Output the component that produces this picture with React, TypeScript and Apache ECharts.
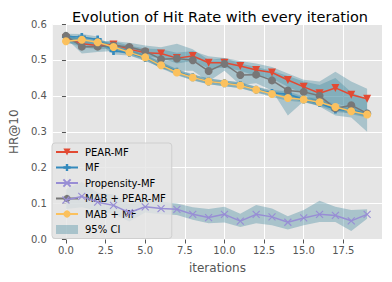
import React, { useEffect, useRef } from "react";
import * as echarts from "echarts";

const iterations = [0, 1, 2, 3, 4, 5, 6, 7, 8, 9, 10, 11, 12, 13, 14, 15, 16, 17, 18, 19];
const xTickValues = [0, 2.5, 5, 7.5, 10, 12.5, 15, 17.5];

const pearMF = [0.56, 0.545, 0.54, 0.543, 0.53, 0.52, 0.518, 0.505, 0.511, 0.492, 0.492, 0.483, 0.472, 0.465, 0.444, 0.425, 0.407, 0.422, 0.403, 0.392];
const pearMFUpper = [0.572, 0.555, 0.55, 0.552, 0.54, 0.532, 0.53, 0.52, 0.525, 0.51, 0.505, 0.497, 0.49, 0.48, 0.462, 0.445, 0.44, 0.467, 0.44, 0.42];
const pearMFLower = [0.55, 0.535, 0.53, 0.532, 0.52, 0.508, 0.506, 0.49, 0.497, 0.476, 0.478, 0.47, 0.455, 0.448, 0.425, 0.405, 0.375, 0.38, 0.365, 0.36];

const mf = [0.565, 0.564, 0.557, 0.525, 0.52, 0.505, 0.487, 0.467, 0.452, 0.44, 0.435, 0.43, 0.417, 0.408, 0.405, 0.39, 0.38, 0.362, 0.36, 0.35];
const mfUpper = [0.573, 0.572, 0.565, 0.535, 0.528, 0.513, 0.495, 0.475, 0.46, 0.448, 0.443, 0.438, 0.425, 0.416, 0.413, 0.398, 0.388, 0.37, 0.368, 0.358];
const mfLower = [0.557, 0.556, 0.549, 0.515, 0.512, 0.497, 0.479, 0.459, 0.444, 0.432, 0.427, 0.422, 0.409, 0.4, 0.397, 0.382, 0.372, 0.354, 0.352, 0.342];

const propensityMF = [0.11, 0.12, 0.104, 0.095, 0.075, 0.091, 0.086, 0.084, 0.07, 0.061, 0.07, 0.051, 0.07, 0.063, 0.048, 0.06, 0.07, 0.067, 0.052, 0.07];
const propensityUpper = [0.14, 0.16, 0.13, 0.125, 0.1, 0.11, 0.105, 0.1, 0.09, 0.085, 0.091, 0.072, 0.096, 0.086, 0.065, 0.082, 0.108, 0.091, 0.082, 0.084];
const propensityLower = [0.085, 0.09, 0.08, 0.07, 0.05, 0.075, 0.07, 0.068, 0.055, 0.045, 0.047, 0.035, 0.045, 0.04, 0.028, 0.04, 0.049, 0.049, 0.024, 0.058];

const mabPearMF = [0.567, 0.537, 0.537, 0.54, 0.536, 0.524, 0.502, 0.504, 0.499, 0.469, 0.489, 0.458, 0.459, 0.443, 0.415, 0.411, 0.4, 0.365, 0.374, 0.351];
const mabPearUpper = [0.575, 0.555, 0.552, 0.553, 0.548, 0.54, 0.535, 0.545, 0.53, 0.5, 0.505, 0.49, 0.48, 0.47, 0.455, 0.44, 0.43, 0.45, 0.41, 0.39];
const mabPearLower = [0.56, 0.518, 0.522, 0.525, 0.522, 0.505, 0.475, 0.47, 0.47, 0.44, 0.47, 0.43, 0.435, 0.415, 0.345, 0.385, 0.37, 0.345, 0.34, 0.3];

const mabMF = [0.552, 0.556, 0.549, 0.536, 0.521, 0.507, 0.485, 0.465, 0.451, 0.44, 0.435, 0.429, 0.417, 0.405, 0.394, 0.39, 0.382, 0.369, 0.357, 0.348];
const mabMFUpper = [0.56, 0.564, 0.557, 0.544, 0.529, 0.515, 0.493, 0.473, 0.459, 0.448, 0.443, 0.437, 0.425, 0.413, 0.402, 0.398, 0.39, 0.377, 0.365, 0.356];
const mabMFLower = [0.544, 0.548, 0.541, 0.528, 0.513, 0.499, 0.477, 0.457, 0.443, 0.432, 0.427, 0.421, 0.409, 0.397, 0.386, 0.382, 0.374, 0.361, 0.349, 0.34];

const BAND = "rgba(70,140,160,0.38)";
const TRI_DOWN = "path://M0,0L10,0L5,8.66Z";
const PLUS = "path://M1,0H2V1H3V2H2V3H1V2H0V1H1Z";
const CROSS = "path://M0,0L10,10M10,0L0,10";

type S = { name: string; vals: number[]; up: number[]; lo: number[]; color: string; symbol: string; size: number; cross?: boolean };

const seriesDefs: S[] = [
  { name: "PEAR-MF", vals: pearMF, up: pearMFUpper, lo: pearMFLower, color: "#E24A33", symbol: TRI_DOWN, size: 8 },
  { name: "MF", vals: mf, up: mfUpper, lo: mfLower, color: "#348ABD", symbol: PLUS, size: 8 },
  { name: "Propensity-MF", vals: propensityMF, up: propensityUpper, lo: propensityLower, color: "#988ED5", symbol: CROSS, size: 7, cross: true },
  { name: "MAB + PEAR-MF", vals: mabPearMF, up: mabPearUpper, lo: mabPearLower, color: "#777777", symbol: "circle", size: 8 },
  { name: "MAB + MF", vals: mabMF, up: mabMFUpper, lo: mabMFLower, color: "#FBC15E", symbol: "circle", size: 8 },
];

export default function App() {
  const ref = useRef<HTMLDivElement>(null);
  useEffect(() => {
    if (!ref.current) return;
    const chart = echarts.init(ref.current, null, { renderer: "svg" });
    const series: any[] = [];
    series.push({
      type: "line",
      name: "grid",
      data: [],
      z: 0,
      silent: true,
      markLine: {
        silent: true,
        z: 0,
        symbol: ["none", "none"],
        label: { show: false },
        lineStyle: { color: "#ffffff", width: 1, type: "solid" },
        data: xTickValues.map((v) => ({ xAxis: v })),
      },
    });
    series.push({
      type: "custom",
      name: "95% CI",
      color: BAND,
      z: 1,
      silent: true,
      clip: true,
      data: seriesDefs.map((_, k) => [k, 0.3]),
      renderItem: (params: any, api: any) => {
        const k = params.dataIndex;
        const d = seriesDefs[k];
        const top = iterations.map((x, i) => api.coord([x, d.up[i]]));
        const bottom = iterations.map((x, i) => api.coord([x, d.lo[i]])).reverse();
        return {
          type: "polygon",
          shape: { points: top.concat(bottom) },
          style: { fill: BAND, stroke: "none" },
        };
      },
    });
    seriesDefs.forEach((d, k) => {
      series.push({
        type: "line",
        name: d.name,
        data: iterations.map((x, i) => [x, d.vals[i]]),
        symbol: d.symbol,
        symbolSize: d.size,
        showAllSymbol: true,
        color: d.color,
        lineStyle: { color: d.color, width: 1.5 },
        itemStyle: d.cross
          ? { color: d.color, borderColor: d.color, borderWidth: 1.2 }
          : { color: d.color, borderWidth: 0 },
        z: 2 + k,
      });
    });

    chart.setOption({
      animation: false,
      title: {
        text: "Evolution of Hit Rate with every iteration",
        left: 215,
        textAlign: "center",
        top: 4,
        textStyle: { fontFamily: "DejaVu Sans", fontSize: 14.5, fontWeight: "normal", color: "#000000" },
      },
      grid: {
        left: 48,
        right: 10,
        top: 24,
        bottom: 42.5,
        show: true,
        backgroundColor: "#E5E5E5",
        borderWidth: 0,
      },
      legend: {
        orient: "vertical",
        left: 52,
        top: 143,
        padding: [4, 6, 4, 3],
        itemWidth: 22,
        itemHeight: 9,
        itemGap: 5.5,
        backgroundColor: "rgba(229,229,229,0.8)",
        borderColor: "#cfcfcf",
        borderWidth: 1,
        borderRadius: 3,
        textStyle: { fontFamily: "DejaVu Sans", fontSize: 10, color: "#000000", padding: [0, 0, 0, 2] },
        data: [
          "PEAR-MF",
          "MF",
          "Propensity-MF",
          "MAB + PEAR-MF",
          "MAB + MF",
          { name: "95% CI", icon: "rect", itemStyle: { color: BAND } },
        ],
        selectedMode: false,
      },
      xAxis: {
        type: "value",
        min: -0.83,
        max: 19.94,
        name: "iterations",
        nameLocation: "middle",
        nameGap: 22,
        nameTextStyle: { fontFamily: "DejaVu Sans", fontSize: 12, color: "#555555" },
        axisLine: { show: false },
        axisTick: { show: true, customValues: xTickValues, length: 4, lineStyle: { color: "#555555" } },
        axisLabel: {
          customValues: xTickValues,
          formatter: (v: number) => v.toFixed(1),
          fontFamily: "DejaVu Sans",
          fontSize: 10,
          color: "#555555",
          margin: 6,
        },
        splitLine: { show: false },
      },
      yAxis: {
        type: "value",
        min: 0,
        max: 0.6,
        interval: 0.1,
        name: "HR@10",
        nameLocation: "middle",
        nameGap: 30,
        nameTextStyle: { fontFamily: "DejaVu Sans", fontSize: 12, color: "#555555" },
        axisLine: { show: false },
        axisTick: { show: true, length: 4, lineStyle: { color: "#555555" } },
        axisLabel: {
          formatter: (v: number) => v.toFixed(1),
          fontFamily: "DejaVu Sans",
          fontSize: 10,
          color: "#555555",
          margin: 6,
        },
        splitLine: { show: true, lineStyle: { color: "#ffffff", width: 1 } },
      },
      series,
    });
    return () => chart.dispose();
  }, []);
  return <div ref={ref} style={{ width: 392, height: 282, position: "absolute", left: 0, top: 0 }} />;
}
